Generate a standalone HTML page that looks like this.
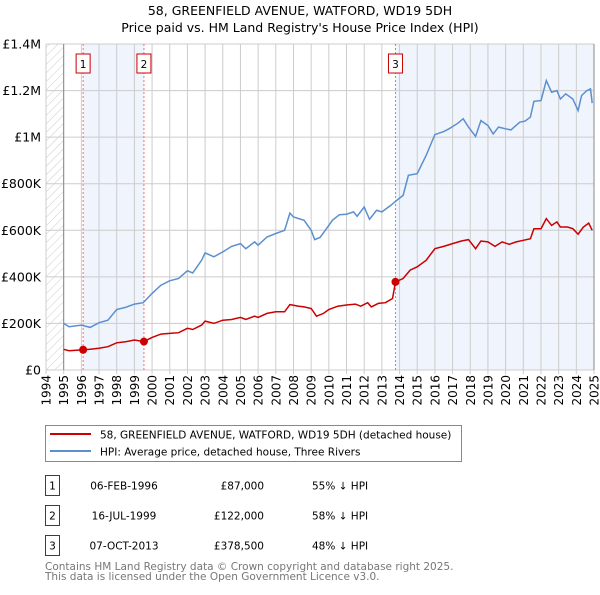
<!DOCTYPE html>
<html><head><meta charset="utf-8"><style>
body{margin:0;background:#fff;width:600px;height:590px;overflow:hidden}
svg{font-family:"DejaVu Sans","Liberation Sans",sans-serif}
</style></head><body>
<svg id="chart" width="600" height="590" xmlns="http://www.w3.org/2000/svg">
<defs><pattern id="hatch" width="6" height="6" patternUnits="userSpaceOnUse" patternTransform="rotate(45)"><line x1="0" y1="0" x2="0" y2="6" stroke="#ccc" stroke-width="1"/></pattern></defs>
<text x="300" y="15" text-anchor="middle" font-size="12.5">58, GREENFIELD AVENUE, WATFORD, WD19 5DH</text>
<text x="300" y="32" text-anchor="middle" font-size="12.5">Price paid vs. HM Land Registry's House Price Index (HPI)</text>
<g id="plot"></g>
<g>
<rect x="45.5" y="425.5" width="416" height="36" fill="#fff" stroke="#888"/>
<line x1="50" y1="434" x2="91" y2="434" stroke="#cc0000" stroke-width="2"/>
<text x="100" y="438.5" font-size="10.5">58, GREENFIELD AVENUE, WATFORD, WD19 5DH (detached house)</text>
<line x1="50" y1="451" x2="91" y2="451" stroke="#5b8fd0" stroke-width="2"/>
<text x="100" y="455.5" font-size="10.5">HPI: Average price, detached house, Three Rivers</text>
</g>
<g id="table" font-size="10.5"></g>
<text x="45" y="570" font-size="10.5" fill="#777">Contains HM Land Registry data © Crown copyright and database right 2025.</text>
<text x="45" y="580" font-size="10.5" fill="#777">This data is licensed under the Open Government Licence v3.0.</text>
</svg>
<script>
const hpiYears=[1995,1995.3,1996,1996.5,1997,1997.5,1998,1998.5,1999,1999.5,2000,2000.5,2001,2001.5,2002,2002.3,2002.8,2003,2003.5,2004,2004.5,2005,2005.3,2005.8,2006,2006.5,2007,2007.5,2007.8,2008,2008.6,2009,2009.2,2009.5,2009.8,2010.2,2010.6,2011,2011.4,2011.6,2012,2012.3,2012.7,2013,2013.5,2013.8,2014.2,2014.5,2015,2015.5,2016,2016.5,2016.8,2017.3,2017.6,2017.9,2018.3,2018.6,2019,2019.3,2019.6,2020,2020.3,2020.8,2021.1,2021.4,2021.6,2022,2022.3,2022.6,2022.9,2023.1,2023.4,2023.8,2024.1,2024.3,2024.6,2024.8,2024.9];
const hpiValues=[200,186,193,183,203,214,260,269,283,289,329,364,383,393,426,417,471,503,486,507,531,543,521,550,536,571,586,600,674,657,643,600,560,569,600,643,667,669,679,660,700,647,686,679,707,726,750,836,843,921,1011,1024,1036,1060,1079,1043,1003,1071,1050,1014,1043,1036,1031,1064,1069,1086,1154,1157,1243,1193,1200,1164,1186,1164,1114,1179,1200,1207,1146];
const ppYears=[1995,1995.3,1996.1,1996.5,1997,1997.5,1998,1998.5,1999,1999.54,2000,2000.5,2001,2001.5,2002,2002.3,2002.8,2003,2003.5,2004,2004.5,2005,2005.3,2005.8,2006,2006.5,2007,2007.5,2007.8,2008.3,2008.6,2009,2009.3,2009.7,2010,2010.5,2011,2011.5,2011.8,2012.2,2012.4,2012.8,2013.2,2013.6,2013.77,2014.2,2014.6,2015,2015.5,2016,2016.5,2017,2017.5,2017.9,2018.3,2018.6,2019,2019.4,2019.8,2020.2,2020.6,2021,2021.4,2021.6,2022,2022.3,2022.6,2022.9,2023.1,2023.5,2023.8,2024.1,2024.4,2024.7,2024.9];
const ppValues=[89,83,87,89,93,100,117,121,129,122,140,154,157,160,179,174,193,210,200,214,217,226,217,231,226,243,250,250,281,274,271,264,231,243,260,274,279,283,274,289,271,286,289,307,378.5,393,429,443,471,521,531,543,554,560,521,554,550,531,550,540,550,557,564,607,607,650,621,636,614,614,607,583,614,631,600];
const saleLabels=["1","2","3"];
const saleYears=[1996.1,1999.54,2013.77];
const saleDates=["06-FEB-1996","16-JUL-1999","07-OCT-2013"];
const salePrices=["£87,000","£122,000","£378,500"];
const saleValues=[87,122,378.5];
const saleDiffs=["55% ↓ HPI","58% ↓ HPI","48% ↓ HPI"];
const yTicks=[0,200,400,600,800,1000,1200,1400];
const yTickLabels=["£0","£200K","£400K","£600K","£800K","£1M","£1.2M","£1.4M"];
const xTicks=[1994,1995,1996,1997,1998,1999,2000,2001,2002,2003,2004,2005,2006,2007,2008,2009,2010,2011,2012,2013,2014,2015,2016,2017,2018,2019,2020,2021,2022,2023,2024,2025];

const L=46,R=594,T=44,B=370,X0=1994,X1=2025,YMAX=1400;
const xs=y=>L+(y-X0)/(X1-X0)*(R-L);
const ys=v=>B-v/YMAX*(B-T);
const NS="http://www.w3.org/2000/svg";
const plot=document.getElementById('plot');
function mk(tag,attrs,parent,text){const e=document.createElementNS(NS,tag);for(const k in attrs)e.setAttribute(k,attrs[k]);if(text!==undefined)e.textContent=text;(parent||plot).appendChild(e);return e;}

let e;
e=mk('rect',{x:L,y:T,width:xs(1995)-L,height:B-T,fill:'url(#hatch)'});


e=mk('rect',{x:xs(saleYears[0]),y:T,width:xs(saleYears[1])-xs(saleYears[0]),height:B-T,fill:'#f0f4fc'});


e=mk('rect',{x:xs(saleYears[2]),y:T,width:R-xs(saleYears[2]),height:B-T,fill:'#f0f4fc'});



yTicks.forEach((t,i)=>{
  e=mk('line',{x1:L,x2:R,y1:ys(t),y2:ys(t),stroke:'#ccc','stroke-width':1});
  
  
  e=mk('text',{x:L-5,y:ys(t)+4.5,'text-anchor':'end','font-size':12.5},plot,yTickLabels[i]);
  
  
});
xTicks.forEach(t=>{
  e=mk('line',{x1:xs(t),x2:xs(t),y1:T,y2:B+4,stroke:'#ccc','stroke-width':1});
  
  
  e=mk('text',{x:0,y:0,'font-size':12,transform:`translate(${xs(t)+4.5},${B+5}) rotate(-90)`,'text-anchor':'end'},plot,String(t));
  
  
});
e=mk('line',{x1:xs(1995),x2:xs(1995),y1:T,y2:B,stroke:'#888'});


e=mk('line',{x1:R,x2:R,y1:T,y2:B,stroke:'#888'});



saleYears.forEach((y,i)=>{
  e=mk('line',{x1:xs(y),x2:xs(y),y1:T,y2:B,stroke:'#f07070','stroke-dasharray':'2,2'});
  
  
});

function path(xa,va){return xa.map((x,i)=>(i?'L':'M')+xs(x).toFixed(1)+','+ys(va[i]).toFixed(1)).join('');}
e=mk('path',{d:path(hpiYears,hpiValues),fill:'none',stroke:'#5b8fd0','stroke-width':1.5});


e=mk('path',{d:path(ppYears,ppValues),fill:'none',stroke:'#cc0000','stroke-width':1.5});



saleYears.forEach((y,i)=>{
  e=mk('circle',{cx:xs(y),cy:ys(saleValues[i]),r:4,fill:'#cc0000'});
  
  
  const bx=xs(y)-7;
  e=mk('rect',{x:bx,y:54,width:14,height:19,fill:'#fff',stroke:'#cc0000'});
  
  
  e=mk('text',{x:xs(y),y:68,'text-anchor':'middle','font-size':10.5},plot,saleLabels[i]);
  
  
});

const tbl=document.getElementById('table');
saleLabels.forEach((s,i)=>{
  const y0=475.5+i*30;
  e=mk('rect',{x:45.5,y:y0,width:14,height:20,fill:'#fff',stroke:'#cc0000'},tbl);
  
  
  e=mk('text',{x:52.5,y:y0+14,'text-anchor':'middle'},tbl,s);
  
  
  e=mk('text',{x:124,y:y0+14,'text-anchor':'middle'},tbl,saleDates[i]);
  
  
  e=mk('text',{x:264,y:y0+14,'text-anchor':'end'},tbl,salePrices[i]);
  
  
  e=mk('text',{x:312,y:y0+14},tbl,saleDiffs[i]);
  
  
});
</script>
</body></html>
